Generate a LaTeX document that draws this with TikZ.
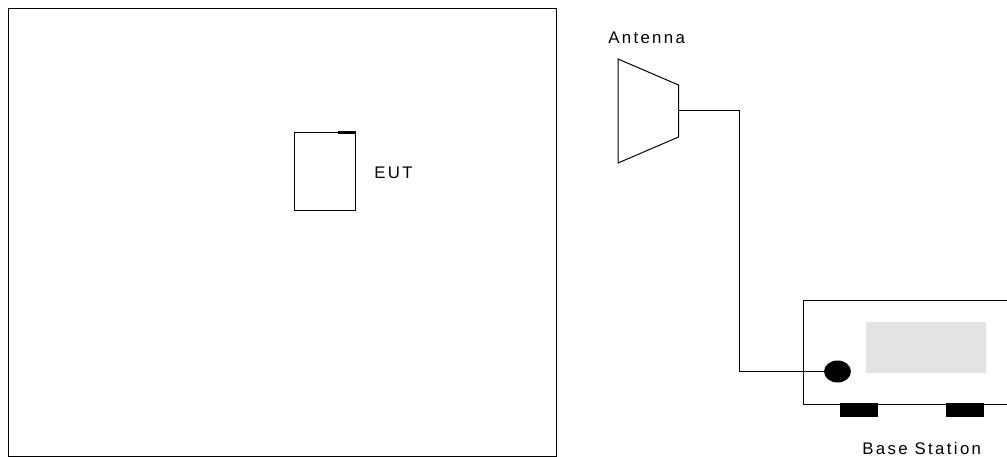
\documentclass[tikz,border=0pt]{standalone}
\usepackage{fontspec}
\usetikzlibrary{shapes.geometric}
\setmainfont{Liberation Sans}
\tikzset{
  px/.style={x=0.75pt,y=-0.75pt},
  ln/.style={draw=black,line width=0.75pt,line join=miter},
  lbl/.style={inner sep=0pt,anchor=base west,font=\fontsize{12.6}{15}\selectfont\addfontfeatures{LetterSpace=14}},
  blk/.style={fill=black,draw=none}
}
\begin{document}
\begin{tikzpicture}[px]
\useasboundingbox (0,0) rectangle (1007,457);
\fill[white] (0,0) rectangle (1007,457);
% chamber
\draw[ln] (8.5,8.5) rectangle (556.5,456);
% EUT
\draw[ln] (294.5,132.5) rectangle (355.5,210.5);
\fill[blk] (338,130.8) rectangle (356,133.5);
\node[lbl] (eut) at (374,178) {EUT};
% antenna
\node[lbl] (ant) at (608,43) {Antenna};
\draw[ln] (618,59) -- (678.5,85) -- (678.5,137) -- (618,163) -- cycle;
\coordinate (feed) at (678.5,110.5);
% base station
\fill[black!11] (866,322) rectangle (986,373);
\draw[ln] (1008,300.5) -- (803.5,300.5) -- (803.5,404.5) -- (1008,404.5);
\node[blk,ellipse,inner sep=0pt,minimum width=20.2pt,minimum height=16.5pt] (port) at (837.5,371.5) {};
\fill[blk] (840,403) rectangle (877.5,417);
\fill[blk] (946,403) rectangle (984,417);
\node[lbl] (bs) at (862,454.5) {Base Station};
% cable
\draw[ln] (feed) -| (739.5,371.5) -- (port.west);
\end{tikzpicture}
\end{document}
